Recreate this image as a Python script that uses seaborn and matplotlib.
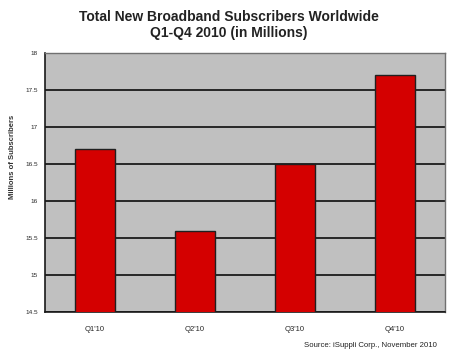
import matplotlib
matplotlib.use("Agg")
import matplotlib.pyplot as plt
import seaborn as sns
import pandas as pd

# data
quarters = ["Q1'10", "Q2'10", "Q3'10", "Q4'10"]
subscribers = [16.7, 15.6, 16.5, 17.7]
y_ticks = [14.5, 15, 15.5, 16, 16.5, 17, 17.5, 18]
y_tick_labels = ["14.5", "15", "15.5", "16", "16.5", "17", "17.5", "18"]

df = pd.DataFrame({"quarter": quarters, "subs": subscribers})

sns.set_style("white")
plt.rcParams["font.family"] = ["Liberation Sans", "DejaVu Sans"]

fig = plt.figure(figsize=(4.5, 3.54), dpi=100)
ax = fig.add_axes([0.1, 0.1186, 0.889, 0.7314])
ax.set_facecolor("#c0c0c0")

sns.barplot(data=df, x="quarter", y="subs", color="#d40000", width=0.4,
            edgecolor="#202020", linewidth=1.0, saturation=1, ax=ax, zorder=3)

ax.set_ylim(14.5, 18)
ax.set_xlim(-0.5, 3.5)
ax.set_yticks(y_ticks)
ax.set_yticklabels(y_tick_labels, fontsize=4.6)
ax.yaxis.grid(True, color="#1a1a1a", linewidth=1.3, zorder=1)
ax.set_axisbelow(True)

ax.set_xticks(range(len(quarters)))
ax.set_xticklabels(quarters, fontsize=5.5)
ax.set_xticks([-0.5, 0.5, 1.5, 2.5, 3.5], minor=True)
ax.tick_params(axis="x", which="major", length=0, pad=10)
ax.tick_params(axis="x", which="minor", length=3, width=1, color="#1a1a1a")
ax.tick_params(axis="y", length=3, width=1, color="#1a1a1a", pad=2)

ax.set_xlabel("")
ax.set_ylabel("Millions of Subscribers", fontsize=5.5, fontweight="bold", color="#333333")
ax.yaxis.set_label_coords(-0.072, 0.6)

for s in ["left", "bottom"]:
    ax.spines[s].set_color("#1a1a1a")
    ax.spines[s].set_linewidth(1.2)
for s in ["top", "right"]:
    ax.spines[s].set_color("#707070")
    ax.spines[s].set_linewidth(1.0)

fig.text(0.509, 0.952, "Total New Broadband Subscribers Worldwide",
         ha="center", va="center", fontsize=10, fontweight="bold", color="#222222")
fig.text(0.509, 0.907, "Q1-Q4 2010 (in Millions)",
         ha="center", va="center", fontsize=10, fontweight="bold", color="#222222")
fig.text(0.971, 0.025, "Source: iSuppli Corp., November 2010",
         ha="right", va="center", fontsize=5.6, color="#222222")

fig.savefig("out.png", dpi=100)
